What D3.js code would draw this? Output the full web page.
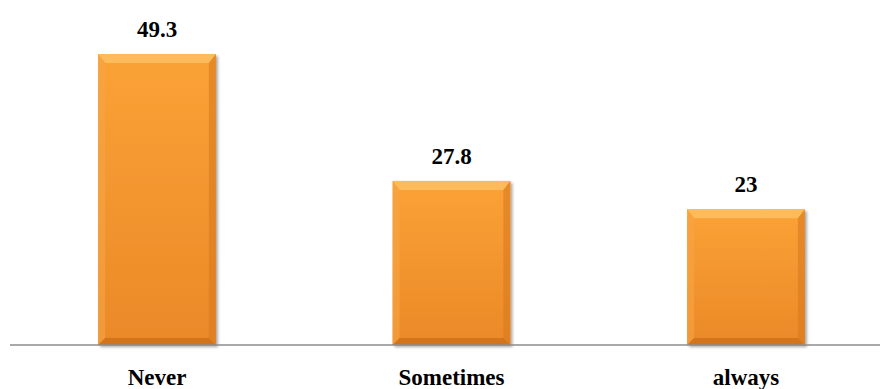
<!DOCTYPE html>
<html>
<head>
<meta charset="utf-8">
<script src="https://cdn.jsdelivr.net/npm/d3@7"></script>
<style>
  html, body { margin: 0; padding: 0; background: #fff; }
  svg { display: block; }
  text.lbl { font-family: "Liberation Serif", "Times New Roman", Times, "DejaVu Serif", serif; font-weight: bold; font-size: 23px; fill: #000; }
</style>
</head>
<body>
<script>
// Frequency responses
const categories = ["Never", "Sometimes", "always"];
const values = [49.3, 27.8, 23];
const valueLabels = ["49.3", "27.8", "23"];

const W = 880, H = 389;
const baseY = 345;

const svg = d3.select("body").append("svg")
  .attr("width", W).attr("height", H);

const x = d3.scaleBand()
  .domain(categories)
  .range([9.75, 893.25])
  .paddingInner(0.6)
  .paddingOuter(0.3);

const y = d3.scaleLinear()
  .domain([0, 49.3])
  .range([baseY, 54]);

const defs = svg.append("defs");

// main body gradient
const g = defs.append("linearGradient")
  .attr("id", "barFill").attr("x1", 0).attr("y1", 0).attr("x2", 0).attr("y2", 1);
g.append("stop").attr("offset", "0%").attr("stop-color", "#FBA236");
g.append("stop").attr("offset", "100%").attr("stop-color", "#EA8928");

const sh = defs.append("filter").attr("id", "shadow")
  .attr("x", "-10%").attr("y", "-10%").attr("width", "130%").attr("height", "130%");
sh.append("feGaussianBlur").attr("in", "SourceAlpha").attr("stdDeviation", 1.5);
sh.append("feOffset").attr("dx", 1.5).attr("dy", 1.5).attr("result", "b");
sh.append("feComponentTransfer").append("feFuncA").attr("type", "linear").attr("slope", 0.35);
const mg = sh.append("feMerge");
mg.append("feMergeNode");
mg.append("feMergeNode").attr("in", "SourceGraphic");

const bars = svg.append("g").selectAll("g.bar")
  .data(categories.map((c, i) => ({ c, v: values[i], label: valueLabels[i] })))
  .join("g").attr("class", "bar");

const bev = 7;

bars.each(function (d) {
  const sel = d3.select(this);
  const x0 = x(d.c), x1 = x0 + x.bandwidth();
  const y0 = y(d.v), y1 = y(0);
  sel.append("rect")
    .attr("x", x0).attr("y", y0)
    .attr("width", x1 - x0).attr("height", y1 - y0)
    .attr("fill", "url(#barFill)")
    .attr("filter", "url(#shadow)");
  // top bevel
  sel.append("path")
    .attr("d", `M${x0},${y0}L${x1},${y0}L${x1 - bev},${y0 + bev + 2}L${x0 + bev},${y0 + bev + 2}Z`)
    .attr("fill", "#FDC062").attr("opacity", 0.85);
  // left bevel
  sel.append("path")
    .attr("d", `M${x0},${y0}L${x0 + bev},${y0 + bev + 2}L${x0 + bev},${y1 - bev}L${x0},${y1}Z`)
    .attr("fill", "#F7A545").attr("opacity", 0.6);
  // right bevel
  sel.append("path")
    .attr("d", `M${x1},${y0}L${x1 - bev},${y0 + bev + 2}L${x1 - bev},${y1 - bev}L${x1},${y1}Z`)
    .attr("fill", "#D9791E").attr("opacity", 0.6);
  // bottom bevel
  sel.append("path")
    .attr("d", `M${x0},${y1}L${x0 + bev},${y1 - bev}L${x1 - bev},${y1 - bev}L${x1},${y1}Z`)
    .attr("fill", "#C96E1A").attr("opacity", 0.75);
  // value label
  sel.append("text").attr("class", "lbl")
    .attr("x", (x0 + x1) / 2)
    .attr("y", y0 - 17)
    .attr("text-anchor", "middle")
    .text(d.label);
});

// category axis
const axis = svg.append("g").attr("transform", `translate(0,${baseY})`);
axis.append("line")
  .attr("x1", 10).attr("x2", W)
  .attr("y1", 0).attr("y2", 0)
  .attr("stroke", "#8C8C8C").attr("stroke-width", 1.5);

axis.selectAll("text.cat")
  .data(categories)
  .join("text").attr("class", "cat lbl")
  .attr("x", c => x(c) + x.bandwidth() / 2)
  .attr("y", 40)
  .attr("text-anchor", "middle")
  .text(c => c);
</script>
</body>
</html>
